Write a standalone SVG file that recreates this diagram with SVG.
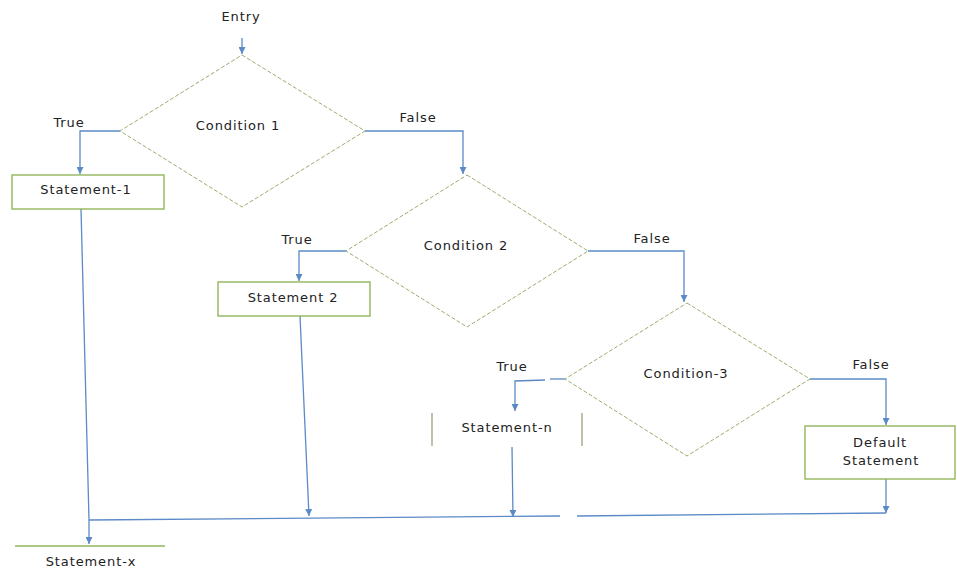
<svg xmlns="http://www.w3.org/2000/svg" width="957" height="578" viewBox="0 0 957 578">
  <style>
    .lbl { font-family: "DejaVu Sans", "Liberation Sans", sans-serif; font-size: 13px; fill: #222222; text-anchor: middle; letter-spacing: 0.9px; }
    .dia { fill: none; stroke: #9aae6e; stroke-width: 1; stroke-dasharray: 4 2; }
    .box { fill: #ffffff; stroke: #93b55a; stroke-width: 1.4; }
    .edge { fill: none; stroke: #5b8ac6; stroke-width: 1.3; }
    .arr { marker-end: url(#head); }
  </style>
  <defs>
    <marker id="head" viewBox="0 0 10 10" refX="10" refY="5" markerWidth="7" markerHeight="7" markerUnits="userSpaceOnUse" orient="auto">
      <path d="M0,0 L10,5 L0,10 z" fill="#5b8ac6"/>
    </marker>
  </defs>
  <rect width="957" height="578" fill="#ffffff"/>

  <g id="connectors">
    <!-- entry -->
    <path class="edge arr" d="M242,38 L242,54"/>
    <!-- condition 1 -->
    <path class="edge arr" d="M120,131 L80,131 L80,174"/>
    <path class="edge arr" d="M365,131 L463,131 L463,174"/>
    <!-- condition 2 -->
    <path class="edge arr" d="M346,251 L299,251 L299,281"/>
    <path class="edge arr" d="M588,251 L684,251 L684,302"/>
    <!-- condition 3 -->
    <path class="edge" d="M565,379 L550,379"/>
    <path class="edge arr" d="M545,380 L515,381 L515,411"/>
    <path class="edge arr" d="M810,379 L886,379 L886,425"/>
    <!-- statements down to the join line -->
    <path class="edge" d="M81,209 L89,520"/>
    <path class="edge arr" d="M300,316 L309,516"/>
    <path class="edge arr" d="M512,447 L513,517"/>
    <path class="edge arr" d="M886,479 L886,513"/>
    <!-- join line -->
    <path class="edge" d="M89,520 L560,516"/>
    <path class="edge" d="M577,516 L886,513"/>
    <path class="edge arr" d="M89,520 L89,544"/>
  </g>

  <g id="entry">
    <text class="lbl" x="241" y="21">Entry</text>
  </g>

  <g id="condition1">
    <polygon class="dia" points="242,55 365,131 242,207 120,131"/>
    <text class="lbl" x="238" y="130">Condition 1</text>
    <text class="lbl" x="69" y="127">True</text>
    <text class="lbl" x="418" y="122">False</text>
  </g>

  <g id="statement1">
    <rect class="box" x="12" y="175" width="152" height="34"/>
    <text class="lbl" x="86" y="194">Statement-1</text>
  </g>

  <g id="condition2">
    <polygon class="dia" points="467,175 588,251 467,327 346,251"/>
    <text class="lbl" x="466" y="250">Condition 2</text>
    <text class="lbl" x="297" y="244">True</text>
    <text class="lbl" x="652" y="243">False</text>
  </g>

  <g id="statement2">
    <rect class="box" x="218" y="282" width="152" height="34"/>
    <text class="lbl" x="293" y="302">Statement 2</text>
  </g>

  <g id="condition3">
    <polygon class="dia" points="687,303 810,379 687,456 565,379"/>
    <text class="lbl" x="686" y="378">Condition-3</text>
    <text class="lbl" x="512" y="371">True</text>
    <text class="lbl" x="871" y="369">False</text>
  </g>

  <g id="statementN">
    <line x1="432" y1="413" x2="432" y2="446" stroke="#8d9c72" stroke-width="1.2"/>
    <line x1="582" y1="413" x2="582" y2="446" stroke="#8d9c72" stroke-width="1.2"/>
    <text class="lbl" x="507" y="432">Statement-n</text>
  </g>

  <g id="default">
    <rect class="box" x="805" y="426" width="150" height="53"/>
    <text class="lbl" x="880" y="447">Default</text>
    <text class="lbl" x="881" y="465">Statement</text>
  </g>

  <g id="statementX">
    <line x1="15" y1="546" x2="165" y2="546" stroke="#93b55a" stroke-width="1.4"/>
    <text class="lbl" x="91" y="566">Statement-x</text>
  </g>
</svg>
